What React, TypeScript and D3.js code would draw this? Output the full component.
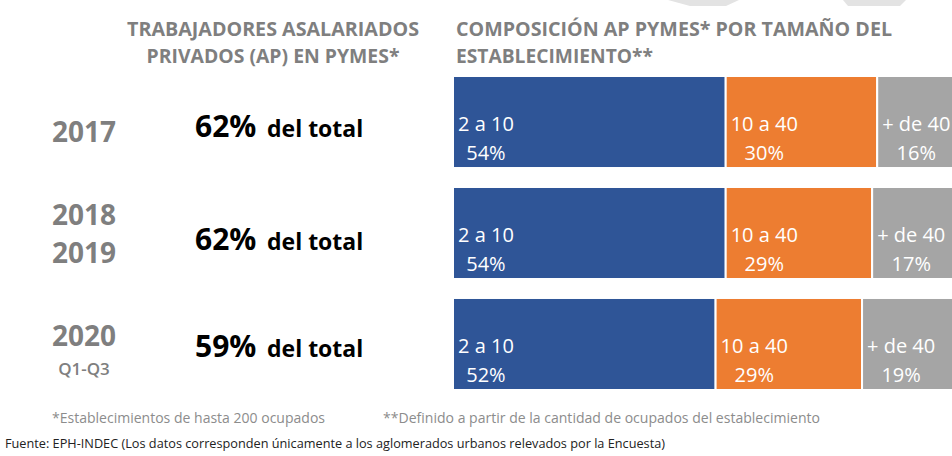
import React, { useEffect, useRef } from "react";
import * as d3 from "d3";

const rowKeys = ["2017", "2018-2019", "2020"];
const yearLines = [["2017"], ["2018", "2019"], ["2020", "Q1-Q3"]];
const totalShare = [62, 62, 59];
const sizeLabels = ["2 a 10", "10 a 40", "+ de 40"];
const small = [54, 54, 52];
const medium = [30, 29, 29];
const large = [16, 17, 19];
const colors = ["#2F5597", "#ED7D31", "#A5A5A5"];
const headerLeft = ["TRABAJADORES ASALARIADOS", "PRIVADOS (AP) EN PYMES*"];
const headerRight = ["COMPOSICIÓN AP PYMES* POR TAMAÑO DEL", "ESTABLECIMIENTO**"];
const note1 = "*Establecimientos  de hasta 200 ocupados";
const note2 = "**Definido  a partir de la cantidad de ocupados del establecimiento";
const source = "Fuente: EPH-INDEC (Los datos corresponden únicamente a los aglomerados urbanos relevados por la Encuesta)";

const W = 952;
const H = 456;
const FONT = "'Open Sans', 'DejaVu Sans', sans-serif";

export default function App() {
  const ref = useRef<SVGSVGElement>(null);

  useEffect(() => {
    const svg = d3.select(ref.current);
    svg.selectAll("*").remove();

    const x = d3.scaleLinear().domain([0, 100]).range([453, 958]);
    const y = d3.scaleBand<string>().domain(rowKeys).range([76, 390]).paddingInner(0.171);

    // faint background shapes at top
    svg.append("polygon").attr("points", "668,0 739,0 726,6 690,6").attr("fill", "#e3e3e3");
    svg.append("polygon").attr("points", "843,0 906,0 900,6 848,6").attr("fill", "#e3e3e3");

    // headers
    const leftLen = [292, 253];
    headerLeft.forEach((t, i) => {
      svg.append("text").attr("x", 273 - leftLen[i] / 2).attr("y", 36 + i * 27)
        .attr("font-family", FONT).attr("font-weight", 700).attr("font-size", 19)
        .attr("textLength", leftLen[i]).attr("lengthAdjust", "spacingAndGlyphs")
        .attr("fill", "#7F7F7F").text(t);
    });
    const rightLen = [436, 197];
    headerRight.forEach((t, i) => {
      svg.append("text").attr("x", 456).attr("y", 36 + i * 27)
        .attr("font-family", FONT).attr("font-weight", 700).attr("font-size", 19)
        .attr("textLength", rightLen[i]).attr("lengthAdjust", "spacingAndGlyphs")
        .attr("fill", "#7F7F7F").text(t);
    });

    const series = [small, medium, large];
    const yearBase = [[142], [225, 263], [346, 375]];
    const totBase = [137, 250, 357];

    rowKeys.forEach((key, r) => {
      const top = y(key)!;
      const bh = y.bandwidth();
      let cum = 0;
      series.forEach((s, k) => {
        const v = s[r];
        const x0 = x(cum);
        const x1 = x(cum + v);
        svg.append("rect").attr("x", x0).attr("y", top).attr("width", x1 - x0).attr("height", bh)
          .attr("fill", colors[k]).attr("stroke", "#ffffff").attr("stroke-width", 2);
        const t1 = svg.append("text").attr("x", x0 + 5).attr("y", top + 55)
          .attr("font-family", FONT).attr("font-size", 20).attr("fill", "#ffffff")
          .text(sizeLabels[k]);
        const w = (t1.node() as SVGTextElement).getComputedTextLength();
        svg.append("text").attr("x", x0 + 5 + w / 2).attr("y", top + 84).attr("text-anchor", "middle")
          .attr("font-family", FONT).attr("font-size", 20).attr("fill", "#ffffff")
          .text(`${v}%`);
        cum += v;
      });

      yearLines[r].forEach((line, j) => {
        const isQ = line.startsWith("Q");
        svg.append("text").attr("x", 84).attr("y", yearBase[r][j]).attr("text-anchor", "middle")
          .attr("font-family", FONT).attr("font-weight", isQ ? 600 : 700)
          .attr("font-size", isQ ? 17 : 28).attr("fill", "#7F7F7F").text(line);
      });

      svg.append("text").attr("x", 195).attr("y", totBase[r])
        .attr("font-family", FONT).attr("font-weight", 700).attr("font-size", 30)
        .attr("fill", "#000000").text(`${totalShare[r]}%`);
      svg.append("text").attr("x", 267).attr("y", totBase[r])
        .attr("font-family", FONT).attr("font-weight", 700).attr("font-size", 23)
        .attr("fill", "#000000").text("del total");
    });

    svg.append("text").attr("x", 52).attr("y", 423).attr("font-family", FONT).attr("font-size", 14)
      .attr("fill", "#8C8C8C").attr("textLength", 273).attr("lengthAdjust", "spacingAndGlyphs").text(note1);
    svg.append("text").attr("x", 383).attr("y", 423).attr("font-family", FONT).attr("font-size", 14)
      .attr("fill", "#8C8C8C").attr("textLength", 437).attr("lengthAdjust", "spacingAndGlyphs").text(note2);
    svg.append("text").attr("x", 5).attr("y", 448).attr("font-family", FONT).attr("font-size", 13)
      .attr("fill", "#222222").attr("textLength", 660).attr("lengthAdjust", "spacingAndGlyphs").text(source);
  }, []);

  return (
    <svg ref={ref} width={W} height={H}
      style={{ position: "absolute", left: 0, top: 0, background: "#ffffff", display: "block" }} />
  );
}
